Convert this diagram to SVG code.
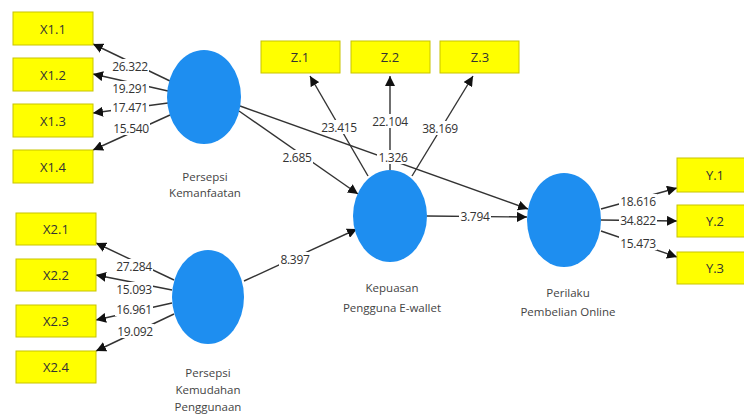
<svg xmlns="http://www.w3.org/2000/svg" width="744" height="419" viewBox="0 0 744 419">
<defs>
<marker id="ah" viewBox="0 0 10 10" refX="10" refY="5" markerWidth="10" markerHeight="10" markerUnits="userSpaceOnUse" orient="auto">
<path d="M0,0 L10,5 L0,10 z" fill="#111"/>
</marker>
</defs>
<style>
.box{fill:#ffff00;stroke:#c8c400;stroke-width:1}
.bt{font-family:"Open Sans","Liberation Sans",sans-serif;font-size:13px;fill:#333;text-anchor:middle;dominant-baseline:central}
.lv{fill:#1e8ef0}
.nt{font-family:"Open Sans","Liberation Sans",sans-serif;font-size:11.5px;fill:#444;text-anchor:middle}
.ln{stroke:#333;stroke-width:1.4;fill:none;marker-end:url(#ah)}
.bg{fill:#fff}
.w{font-family:"Open Sans","Liberation Sans",sans-serif;font-size:12px;fill:#333;text-anchor:middle;dominant-baseline:central;letter-spacing:-0.3px}
</style>
<rect width="744" height="419" fill="#fff"/>
<g id="connectors">
<line class="ln" x1="170" y1="81" x2="93" y2="44"/>
<line class="ln" x1="168" y1="91" x2="93" y2="74"/>
<line class="ln" x1="168" y1="103" x2="93" y2="113"/>
<line class="ln" x1="170" y1="115" x2="93" y2="150"/>
<line class="ln" x1="174" y1="280" x2="96" y2="243"/>
<line class="ln" x1="172" y1="290" x2="96" y2="275"/>
<line class="ln" x1="172" y1="303" x2="96" y2="320"/>
<line class="ln" x1="174" y1="314" x2="96" y2="351"/>
<line class="ln" x1="368" y1="176" x2="310" y2="76"/>
<line class="ln" x1="390" y1="170" x2="390" y2="76"/>
<line class="ln" x1="412" y1="176" x2="473" y2="76"/>
<line class="ln" x1="239" y1="111" x2="358" y2="194"/>
<line class="ln" x1="240" y1="106" x2="528" y2="209"/>
<line class="ln" x1="244" y1="281" x2="357" y2="229"/>
<line class="ln" x1="427" y1="216" x2="527" y2="217"/>
<line class="ln" x1="601" y1="209" x2="677" y2="188"/>
<line class="ln" x1="601" y1="220" x2="677" y2="221"/>
<line class="ln" x1="601" y1="231" x2="677" y2="257"/>
<rect class="bg" x="111" y="59" width="38" height="14"/>
<rect class="bg" x="111" y="81" width="38" height="14"/>
<rect class="bg" x="111" y="100" width="38" height="14"/>
<rect class="bg" x="112" y="121" width="38" height="14"/>
<rect class="bg" x="115" y="259" width="38" height="14"/>
<rect class="bg" x="115" y="282" width="38" height="14"/>
<rect class="bg" x="115" y="302" width="38" height="14"/>
<rect class="bg" x="116" y="324" width="38" height="14"/>
<rect class="bg" x="320" y="120" width="38" height="14"/>
<rect class="bg" x="371" y="114" width="38" height="14"/>
<rect class="bg" x="421" y="121" width="38" height="14"/>
<rect class="bg" x="281" y="150" width="32" height="14"/>
<rect class="bg" x="377" y="150" width="32" height="14"/>
<rect class="bg" x="279" y="252" width="32" height="14"/>
<rect class="bg" x="459" y="209" width="32" height="14"/>
<rect class="bg" x="619" y="194" width="38" height="14"/>
<rect class="bg" x="619" y="213" width="38" height="14"/>
<rect class="bg" x="619" y="236" width="38" height="14"/>
<text class="w" x="130" y="66">26.322</text>
<text class="w" x="130" y="88">19.291</text>
<text class="w" x="130" y="107">17.471</text>
<text class="w" x="131" y="128">15.540</text>
<text class="w" x="134" y="266">27.284</text>
<text class="w" x="134" y="289">15.093</text>
<text class="w" x="134" y="309">16.961</text>
<text class="w" x="135" y="331">19.092</text>
<text class="w" x="339" y="127">23.415</text>
<text class="w" x="390" y="121">22.104</text>
<text class="w" x="440" y="128">38.169</text>
<text class="w" x="297" y="157">2.685</text>
<text class="w" x="393" y="157">1.326</text>
<text class="w" x="295" y="259">8.397</text>
<text class="w" x="475" y="216">3.794</text>
<text class="w" x="638" y="201">18.616</text>
<text class="w" x="638" y="220">34.822</text>
<text class="w" x="638" y="243">15.473</text>
</g>
<g id="X1.1"><rect class="box" x="13" y="12" width="80" height="33"/><text class="bt" x="53" y="28.5">X1.1</text></g>
<g id="X1.2"><rect class="box" x="13" y="58" width="80" height="33"/><text class="bt" x="53" y="74.5">X1.2</text></g>
<g id="X1.3"><rect class="box" x="13" y="104" width="80" height="33"/><text class="bt" x="53" y="120.5">X1.3</text></g>
<g id="X1.4"><rect class="box" x="13" y="150" width="80" height="33"/><text class="bt" x="53" y="166.5">X1.4</text></g>
<g id="X2.1"><rect class="box" x="16" y="213" width="80" height="32"/><text class="bt" x="56" y="229">X2.1</text></g>
<g id="X2.2"><rect class="box" x="16" y="259" width="80" height="32"/><text class="bt" x="56" y="275">X2.2</text></g>
<g id="X2.3"><rect class="box" x="16" y="305" width="80" height="32"/><text class="bt" x="56" y="321">X2.3</text></g>
<g id="X2.4"><rect class="box" x="16" y="351" width="80" height="32"/><text class="bt" x="56" y="367">X2.4</text></g>
<g id="Z.1"><rect class="box" x="261" y="41" width="79" height="32"/><text class="bt" x="300" y="57">Z.1</text></g>
<g id="Z.2"><rect class="box" x="351" y="41" width="79" height="32"/><text class="bt" x="390" y="57">Z.2</text></g>
<g id="Z.3"><rect class="box" x="440" y="41" width="79" height="32"/><text class="bt" x="480" y="57">Z.3</text></g>
<g id="Y.1"><rect class="box" x="677" y="158" width="80" height="34"/><text class="bt" x="715" y="175">Y.1</text></g>
<g id="Y.2"><rect class="box" x="677" y="205" width="80" height="32"/><text class="bt" x="715" y="221">Y.2</text></g>
<g id="Y.3"><rect class="box" x="677" y="252" width="80" height="32"/><text class="bt" x="715" y="268">Y.3</text></g>
<g id="PersepsiKemanfaatan"><ellipse class="lv" cx="204" cy="97" rx="37" ry="47"/><text class="nt" x="205" y="181">Persepsi</text><text class="nt" x="205" y="197">Kemanfaatan</text></g>
<g id="PersepsiKemudahan"><ellipse class="lv" cx="208" cy="297" rx="36" ry="47"/><text class="nt" x="208" y="377">Persepsi</text><text class="nt" x="208" y="394">Kemudahan</text><text class="nt" x="208" y="411">Penggunaan</text></g>
<g id="Kepuasan"><ellipse class="lv" cx="390" cy="216" rx="37" ry="46"/><text class="nt" x="392" y="292">Kepuasan</text><text class="nt" x="392" y="312">Pengguna E-wallet</text></g>
<g id="Perilaku"><ellipse class="lv" cx="564" cy="220" rx="37" ry="47"/><text class="nt" x="568" y="297">Perilaku</text><text class="nt" x="568" y="316">Pembelian Online</text></g>
</svg>
